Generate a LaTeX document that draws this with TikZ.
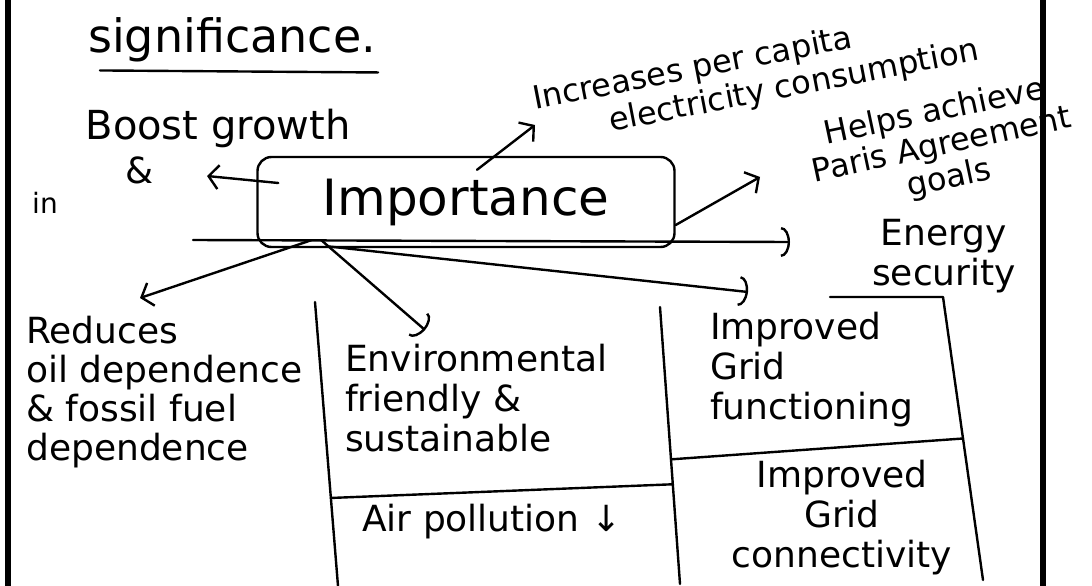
\documentclass[tikz,border=0pt]{standalone}
\usepackage{fontspec}
\setmainfont{DejaVu Sans}
\usetikzlibrary{positioning,calc,arrows.meta}

\tikzset{
    hand/.style={line width=2.4pt, line cap=round, line join=round},
    arr/.style={hand, -{Straight Barb[length=10pt,width=24pt]}},
    arcarr/.style={hand, -{Arc Barb[length=9pt,width=30pt]}},
    txt/.style={inner sep=0pt, font=\fontsize{36}{40}\selectfont},
    impbox/.style={hand, draw, rounded corners=14pt, minimum width=417pt,
        minimum height=90pt, font=\fontsize{50}{56}\selectfont}
}

\begin{document}
\begin{tikzpicture}[x=1pt, y=-1pt]
    \useasboundingbox (0,0) rectangle (1092,586);

    % Page edges
    \draw[line width=6pt] (8,0) -- (8,586);
    \draw[line width=6pt] (1043,0) -- (1043,586);

    % Heading
    \node[txt, font=\fontsize{46}{50}\selectfont] (title) at (232,40) {significance.};
    \draw[hand] ($(title.south west)+(12,8)$) -- ($(title.south east)+(2,10)$);

    % Centre box
    \node[impbox] (imp) at (466,202) {Importance};

    % Texts round the box
    \node[txt, font=\fontsize{40}{44}\selectfont] (boost) at (218,128) {Boost growth};
    \node[txt] (amp) at (140,170) {\&};
    \node[txt, font=\fontsize{28}{30}\selectfont] (inword) at (45,203) {in};
    \node[txt, font=\fontsize{32}{36}\selectfont, align=left, rotate=11] (incr) at (756,76)
        {Increases per capita\\\hspace*{2.2em}electricity consumption};
    \node[txt, font=\fontsize{32}{34}\selectfont, align=center, rotate=12] (helps) at (942,146)
        {Helps achieve\\Paris Agreement\\goals};
    \node[txt, align=center] (energy) at (944,256) {Energy\\security};
    \node[txt, align=left, anchor=west, font=\fontsize{36}{39}\selectfont] (reduces) at (26,392)
        {Reduces\\oil dependence\\\& fossil fuel\\dependence};

    % Table of the lower part
    \coordinate (c1t) at (315,302);
    \coordinate (c1b) at (338,586);
    \coordinate (c2t) at (660,307);
    \coordinate (c2b) at (680,584);
    \coordinate (c3l) at (830,297);
    \coordinate (c3t) at (943,297);
    \coordinate (c3b) at (983,580);
    \begin{scope}[hand]
        \draw (c1t) -- (c1b);
        \draw (c2t) -- (c2b);
        \draw (c3l) -- (c3t) -- (c3b);
        \draw ($(c1t)!0.69!(c1b)$) -- ($(c2t)!0.64!(c2b)$);
        \draw ($(c2t)!0.55!(c2b)$) -- ($(c3t)!0.5!(c3b)$);
    \end{scope}

    \node[txt, align=left, anchor=west] (env) at (345,398) {Environmental\\friendly \&\\sustainable};
    \node[txt, anchor=west] (air) at (362,522) {Air pollution ↓};
    \node[txt, align=left, anchor=west] (gridf) at (710,370) {Improved\\Grid\\functioning};
    \node[txt, align=center] (gridc) at (842,518) {Improved\\Grid\\connectivity};

    % Free ends of the arrows
    \coordinate (boostTip) at (207,176);
    \coordinate (incrTip) at (535,125);
    \coordinate (helpsTip) at (760,177);
    \coordinate (lineStart) at (193,240);
    \coordinate (energyTip) at (790,242);
    \coordinate (reducesTip) at (140,298);
    \coordinate (envTip) at (425,330);
    \coordinate (gridTip) at (748,292);

    % Arrows out of the box
    \draw[arr] ($(imp.west)+(22,-19)$) -- (boostTip);
    \draw[arr] ($(imp.north)+(11,14)$) -- (incrTip);
    \draw[arr] ($(imp.east)+(0,23)$) -- (helpsTip);
    \draw[arcarr] (lineStart) -- (energyTip);
    \draw[arr] ($(imp.south west)+(55,-8)$) -- (reducesTip);
    \draw[arcarr] ($(imp.south west)+(65,-8)$) -- (envTip);
    \draw[arcarr] ($(imp.south west)+(70,-2)$) -- (gridTip);
\end{tikzpicture}
\end{document}
